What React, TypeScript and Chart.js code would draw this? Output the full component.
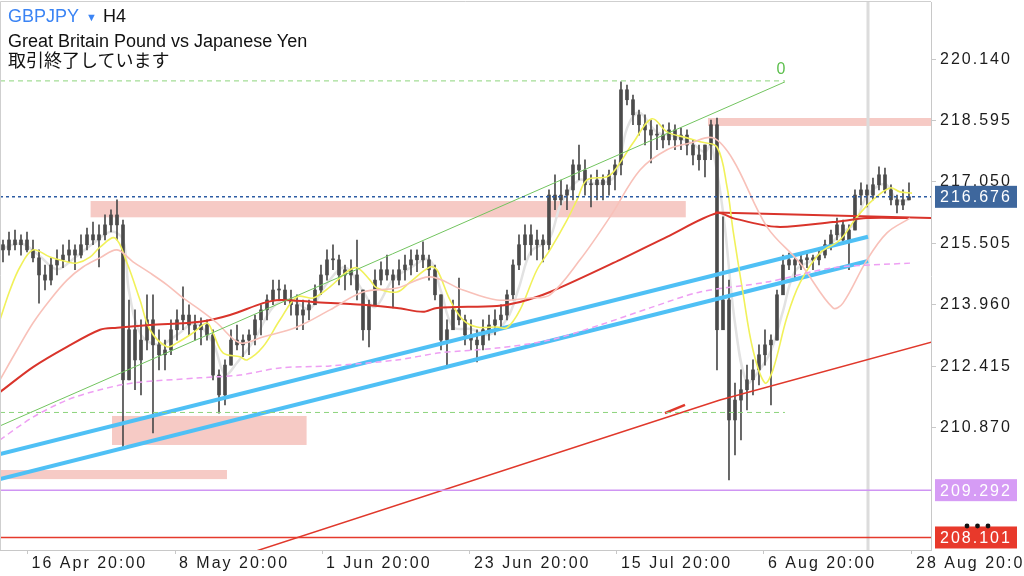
import React, { useEffect, useRef } from "react";
import { Chart, registerables } from "chart.js";
Chart.register(...registerables);

// ---------- axes ----------
const TIME_LABELS = ["16 Apr 20:00", "8 May 20:00", "1 Jun 20:00", "23 Jun 20:00", "15 Jul 20:00", "6 Aug 20:00", "28 Aug 20:00"];
const TIME_TICK_BARS = [4.1, 28.67, 53.17, 77.83, 102.33, 126.83, 151.5];
const PRICE_TICKS = [210.87, 212.415, 213.96, 215.505, 217.05, 218.595, 220.14];
const PRICE_MIN = 207.786;
const PRICE_MAX = 221.58;
const BAR_MIN = -0.5;
const BAR_MAX = 154.67;

// ---------- candles (H4, GBPJPY) ----------
const FIRST_OPEN = 215.47;
const HIGH = [
  215.59, 215.79, 215.84, 215.72, 215.79, 215.59, 215.34, 214.96, 215.14, 215.34,
  215.47, 215.59, 215.47, 215.72, 215.89, 216.04, 215.97, 216.22, 216.35, 216.6,
  216.09, 214.08, 213.83, 213.58, 214.21, 214.21, 213.33, 213.07, 213.58, 213.83,
  214.41, 213.96, 213.7, 213.63, 213.58, 213.33, 212.32, 212.57, 213.33, 213.45,
  213.2, 213.33, 213.7, 213.96, 214.21, 214.58, 214.58, 214.46, 214.33, 214.21,
  214.08, 214.08, 214.46, 214.96, 215.34, 215.47, 215.21, 214.96, 215.09, 215.59,
  214.33, 214.08, 214.84, 215.04, 215.21, 214.84, 215.09, 215.21, 215.34, 215.34,
  215.54, 215.21, 214.96, 214.21, 213.58, 214.08, 214.63, 213.7, 213.58, 213.33,
  213.58, 213.7, 213.83, 213.96, 214.33, 215.09, 215.72, 215.97, 215.97, 215.84,
  215.72, 216.85, 217.23, 217.1, 216.98, 217.61, 217.98, 217.61, 217.23, 217.35,
  217.23, 217.35, 217.61, 219.57, 219.49, 219.24, 218.86, 218.74, 218.61, 218.49,
  218.49, 218.54, 218.49, 218.41, 218.36, 218.11, 217.98, 217.86, 218.61, 218.66,
  216.17, 214.58, 211.99, 212.32, 212.44, 212.57, 212.95, 213.33, 213.2, 214.33,
  215.21, 215.26, 215.14, 215.21, 215.29, 215.21, 215.34, 215.59, 215.84, 216.14,
  216.09, 215.97, 216.85, 217.03, 216.98, 217.15, 217.43, 217.4, 216.98, 216.72,
  216.85, 217.03,
];
const LOW = [
  215.04, 215.21, 215.34, 215.21, 215.29, 215.04, 214.0, 214.33, 214.46, 214.71,
  214.89, 215.04, 214.84, 215.14, 215.34, 215.47, 214.91, 215.59, 215.79, 215.59,
  210.38, 212.07, 211.82, 211.69, 212.82, 210.73, 212.32, 212.32, 212.7, 213.07,
  213.33, 213.2, 213.07, 212.95, 213.07, 212.07, 211.23, 211.44, 212.44, 212.82,
  212.65, 212.7, 212.95, 213.2, 213.58, 213.96, 214.08, 213.96, 213.7, 213.33,
  213.33, 213.58, 213.96, 214.21, 214.58, 214.84, 214.46, 214.33, 214.46, 214.08,
  213.07, 212.9, 214.21, 214.46, 214.58, 213.88, 214.46, 214.58, 214.71, 214.79,
  214.89, 214.58, 214.08, 212.82, 212.39, 213.33, 213.45, 212.95, 212.82, 212.52,
  212.82, 213.07, 213.2, 213.33, 213.58, 214.08, 214.84, 215.09, 215.21, 215.09,
  215.04, 215.34, 216.35, 216.47, 216.35, 216.6, 217.1, 216.72, 216.42, 216.6,
  216.6, 216.72, 216.85, 217.23, 218.99, 218.49, 218.23, 217.98, 217.53, 217.86,
  217.91, 217.98, 217.86, 217.86, 217.73, 217.48, 217.35, 217.18, 217.61, 212.32,
  213.33, 209.55, 210.18, 210.56, 211.31, 211.69, 211.94, 212.44, 211.44, 213.07,
  214.33, 214.84, 214.58, 214.84, 214.89, 214.84, 214.96, 215.14, 215.34, 215.59,
  215.47, 214.84, 215.84, 216.47, 216.42, 216.6, 216.85, 216.77, 216.47, 216.27,
  216.35, 216.6,
];
const CLOSE = [
  215.34, 215.59, 215.47, 215.59, 215.34, 215.14, 214.71, 214.58, 214.96, 215.09,
  215.21, 215.34, 215.21, 215.47, 215.72, 215.59, 215.72, 215.97, 216.22, 215.97,
  212.07, 213.33, 212.57, 213.07, 213.58, 212.95, 212.7, 212.82, 213.33, 213.58,
  213.7, 213.45, 213.33, 213.45, 213.2, 212.19, 211.69, 212.44, 213.07, 212.95,
  213.07, 213.2, 213.58, 213.83, 214.08, 214.33, 214.33, 214.08, 213.96, 213.7,
  213.83, 213.96, 214.33, 214.71, 215.09, 215.09, 214.71, 214.84, 214.71, 214.33,
  213.33, 213.96, 214.58, 214.84, 214.71, 214.58, 214.84, 214.96, 215.09, 215.21,
  215.09, 214.84, 214.21, 213.07, 213.33, 213.83, 213.58, 213.2, 213.07, 212.95,
  213.33, 213.45, 213.58, 213.7, 214.21, 214.96, 215.47, 215.72, 215.47, 215.59,
  215.47, 216.72, 216.6, 216.72, 216.85, 217.48, 217.35, 216.98, 216.98, 217.1,
  216.98, 217.23, 217.48, 219.37, 219.12, 218.74, 218.49, 218.36, 218.23, 218.23,
  218.11, 218.36, 218.11, 218.23, 217.98, 217.73, 217.61, 217.98, 218.49, 213.33,
  214.08, 211.06, 211.56, 211.82, 212.07, 212.32, 212.7, 212.95, 213.07, 214.21,
  214.96, 215.09, 214.96, 215.09, 215.14, 215.09, 215.21, 215.47, 215.72, 215.97,
  215.59, 215.84, 216.72, 216.85, 216.72, 216.98, 217.23, 216.85, 216.6, 216.47,
  216.6, 216.676,
];

// ---------- moving averages: [bar, price] ----------
const GRAY_MA = [
  [-0.5, 215.35], [3, 215.5], [6, 215.2], [9, 214.85], [12, 215.15], [15, 215.5], [18, 215.8],
  [20, 215.6], [21, 214.3], [23, 213.2], [26, 212.95], [29, 213.2], [32, 213.5], [35, 213.0],
  [37, 212.2], [39, 212.5], [42, 213.1], [45, 213.9], [48, 214.1], [51, 213.85], [54, 214.5],
  [57, 214.9], [60, 214.3], [62, 213.9], [65, 214.6], [68, 214.9], [71, 215.1], [73, 214.3],
  [75, 213.4], [78, 213.35], [81, 213.2], [84, 213.6], [86, 214.4], [88, 215.3], [91, 215.6],
  [93, 216.5], [96, 217.1], [99, 217.0], [102, 217.2], [104, 218.4], [106, 218.8], [109, 218.3],
  [112, 218.2], [115, 218.0], [117, 217.8], [118, 218.0], [120, 216.3], [122, 213.5], [124, 212.0],
  [126, 212.3], [128, 212.8], [130, 213.8], [132, 214.8], [135, 215.1], [138, 215.5], [140, 215.8],
  [142, 216.0], [144, 216.7], [147, 217.0], [149, 216.6], [151, 216.6],
];
const RED_MA = [
  [-0.5, 211.76], [5, 212.39], [10.67, 212.9], [16.17, 213.33], [19, 213.38], [24.5, 213.45],
  [32.83, 213.53], [37.83, 213.7], [43.33, 214.0], [46.17, 214.08], [51.67, 214.03], [60, 213.96],
  [65.67, 213.88], [70, 213.78], [72.33, 213.88], [82.33, 213.93], [86.17, 214.03], [91.17, 214.28],
  [102.83, 215.09], [110.67, 215.67], [119, 216.27], [121.67, 216.14], [129, 215.92], [138.33, 216.04],
  [144, 216.14], [151.17, 216.14],
];
const PINK_MA = [
  [-0.5, 212.07], [2.33, 212.82], [5, 213.5], [7.83, 214.08], [10.67, 214.58], [13.33, 214.91],
  [16.17, 215.14], [19, 215.34], [21.67, 215.04], [24.5, 214.76], [27.33, 214.46], [30, 214.13],
  [32.83, 213.83], [35.67, 213.5], [39.5, 213.0], [43.33, 213.15], [49, 213.4], [54.5, 213.83],
  [60, 214.28], [65.67, 214.38], [71.17, 214.66], [76.67, 214.33], [82.33, 214.08], [87.83, 214.13],
  [91.17, 214.21], [96.17, 215.09], [101.17, 216.17], [106.17, 217.35], [110.67, 217.86], [114.5, 218.03],
  [118.33, 218.16], [121.67, 217.61], [127.33, 215.92], [132.83, 215.01], [138.33, 213.88], [140, 214.0],
  [144, 215.09], [147.33, 215.77], [151.17, 216.14],
];
const YELLOW_MA = [
  [-0.5, 213.58], [1.17, 214.33], [2.83, 214.91], [5, 215.34], [7.83, 215.16], [10.67, 215.04],
  [12.33, 215.01], [14.5, 215.16], [16.17, 215.41], [18.67, 215.64], [20.67, 215.01], [22.83, 214.08],
  [24.5, 213.33], [27.33, 212.9], [29, 213.0], [31.67, 213.25], [34, 213.5], [35, 213.25],
  [36.67, 212.75], [39.5, 212.65], [40.67, 212.57], [43.33, 212.9], [46.17, 213.58], [49, 214.16],
  [51.67, 214.13], [54.5, 214.41], [57.33, 214.79], [59, 214.89], [61.17, 214.58], [62.33, 214.38],
  [65.67, 214.28], [67.83, 214.53], [71.17, 214.91], [72.33, 214.84], [74.5, 214.08], [76.67, 213.58],
  [79, 213.4], [82.33, 213.4], [84, 213.38], [86.17, 213.83], [89, 214.84], [91.17, 215.34],
  [94, 216.09], [95.67, 216.6], [97.33, 217.1], [100.67, 217.18], [102, 217.35], [105, 218.03],
  [108.17, 218.64], [110.67, 218.31], [114, 218.16], [116.17, 218.06], [119, 217.93], [120.67, 216.93],
  [121.67, 215.84], [123.33, 214.26], [125, 212.82], [127, 211.99], [128.33, 212.32], [130.67, 213.65],
  [132.83, 214.51], [136.17, 215.26], [139.5, 215.59], [142.33, 216.17], [145, 216.6], [147.83, 216.9],
  [149.5, 216.8], [151.5, 216.77],
];
const VIOLET_MA = [
  [-0.5, 210.56], [5, 211.13], [10.67, 211.56], [16.17, 211.82], [21.67, 211.99], [32.83, 212.12],
  [39.5, 212.19], [46.17, 212.37], [54.5, 212.42], [65.67, 212.57], [72.83, 212.75], [82.33, 212.87],
  [91.17, 213.07], [99.5, 213.45], [107.83, 213.88], [116.17, 214.28], [127.33, 214.53], [138.33, 214.89],
  [151.5, 215.01],
];

// ---------- drawn objects ----------
const CURRENT_PRICE = 216.676;
const PURPLE_LEVEL = 209.292;
const RED_LEVEL = 208.101;
const GREEN_FIB_TOP = 219.594;
const GREEN_FIB_BOTTOM = 211.248;
const GREEN_FIB_END_BAR = 130.33;
const GREEN_TREND = [[-0.5, 210.91], [130.33, 219.57]];
const BLUE_UPPER = [[-0.5, 210.2], [144.17, 215.67]];
const BLUE_LOWER = [[-0.5, 209.57], [144.17, 215.06]];
const RED_TREND = [[42.17, 207.76], [119.5, 211.56], [154.83, 213.02]];
const RED_SHORT = [[110.33, 211.23], [113.67, 211.44]];
const RED_FLAT = [[118.67, 216.28], [154.67, 216.14]];
// zones: [fromBar, toBar, topPrice, bottomPrice]
const ZONES = [
  [14.6, 113.8, 216.57, 216.16],
  [117.5, 154.83, 218.66, 218.46],
  [18.17, 50.6, 211.16, 210.43],
  [-0.5, 37.33, 209.8, 209.57],
];
const VLINE_BAR = 144.17;

const FONT = "'Liberation Sans', Arial, Helvetica, sans-serif";

const pts = (arr: number[][]) => arr.map(([x, y]) => ({ x, y }));

export default function App() {
  const ref = useRef<HTMLCanvasElement>(null);

  useEffect(() => {
    document.body.style.margin = "0";
    const canvas = ref.current!;

    const opens = CLOSE.map((_, i) => (i === 0 ? FIRST_OPEN : CLOSE[i - 1]));
    const wicks = CLOSE.map((c, i) => ({
      x: i,
      y: [Math.min(LOW[i], opens[i], c), Math.max(HIGH[i], opens[i], c)],
    }));
    const bodies = CLOSE.map((c, i) => ({ x: i, y: [opens[i], c] }));

    const line = (data: any[], color: string, width: number, extra: any = {}) => ({
      type: "line",
      data,
      borderColor: color,
      borderWidth: width,
      pointRadius: 0,
      fill: false,
      tension: 0,
      order: 1,
      ...extra,
    });

    const overlay = {
      id: "overlay",
      beforeUpdate(chart: any) {
        chart.ctx.letterSpacing = "2px";
      },
      beforeDraw(chart: any) {
        chart.ctx.letterSpacing = "2px";
      },
      beforeDatasetsDraw(chart: any) {
        const { ctx, chartArea, scales } = chart;
        const x = scales.x, y = scales.y;
        ctx.save();
        ctx.fillStyle = "#f6cac5";
        ZONES.forEach(([b0, b1, p0, p1]) => {
          const x0 = Math.max(chartArea.left, x.getPixelForValue(b0));
          const x1 = Math.min(chartArea.right, x.getPixelForValue(b1));
          const y0 = y.getPixelForValue(p0);
          const y1 = y.getPixelForValue(p1);
          ctx.fillRect(x0, y0, x1 - x0, y1 - y0);
        });
        ctx.fillStyle = "#dcdcdc";
        const vx = x.getPixelForValue(VLINE_BAR);
        ctx.fillRect(vx - 1.5, chartArea.top, 3, chartArea.bottom - chartArea.top);
        ctx.restore();
      },
      afterDraw(chart: any) {
        const { ctx, chartArea, scales } = chart;
        const x = scales.x, y = scales.y;
        ctx.save();
        // frame
        ctx.strokeStyle = "#cfcfcf";
        ctx.lineWidth = 1;
        ctx.beginPath();
        ctx.moveTo(0.5, chartArea.bottom);
        ctx.lineTo(0.5, 1.5);
        ctx.lineTo(chartArea.right, 1.5);
        ctx.stroke();
        // fib label
        ctx.letterSpacing = "0px";
        ctx.fillStyle = "#5cbf4c";
        ctx.font = `16px ${FONT}`;
        ctx.textAlign = "center";
        ctx.textBaseline = "middle";
        ctx.fillText("0", x.getPixelForValue(GREEN_FIB_END_BAR) - 4, y.getPixelForValue(GREEN_FIB_TOP) - 11);
        // price boxes
        ctx.letterSpacing = "2px";
        ctx.textAlign = "left";
        const box = (price: number, fill: string) => {
          const py = y.getPixelForValue(price);
          ctx.fillStyle = fill;
          ctx.fillRect(chartArea.right + 4, py - 11, 82, 22);
          ctx.fillStyle = "#ffffff";
          ctx.fillText(price.toFixed(3), chartArea.right + 9, py + 1);
        };
        box(CURRENT_PRICE, "#3e679d");
        box(PURPLE_LEVEL, "#d69cf5");
        box(RED_LEVEL, "#e8392b");
        // dots above the last box
        const dy = y.getPixelForValue(RED_LEVEL) - 11.5;
        ctx.fillStyle = "#111111";
        [36, 46.5, 57].forEach((dx) => {
          ctx.beginPath();
          ctx.arc(chartArea.right + dx, dy, 2.4, 0, Math.PI * 2);
          ctx.fill();
        });
        ctx.restore();
      },
    };

    const chart = new Chart(canvas, {
      type: "line",
      data: {
        datasets: [
          line(pts([[BAR_MIN, CURRENT_PRICE], [BAR_MAX, CURRENT_PRICE]]), "#2d5ca3", 1.5, { borderDash: [3, 3], order: 0 }),
          line(pts([[BAR_MIN, PURPLE_LEVEL], [BAR_MAX, PURPLE_LEVEL]]), "#cf95f3", 1.5),
          line(pts([[BAR_MIN, RED_LEVEL], [BAR_MAX, RED_LEVEL]]), "#e53a2c", 1.5),
          line(pts([[BAR_MIN, GREEN_FIB_TOP], [GREEN_FIB_END_BAR, GREEN_FIB_TOP]]), "#8dd47c", 1, { borderDash: [5, 4] }),
          line(pts([[BAR_MIN, GREEN_FIB_BOTTOM], [GREEN_FIB_END_BAR, GREEN_FIB_BOTTOM]]), "#8dd47c", 1, { borderDash: [5, 4] }),
          line(pts(GREEN_TREND), "#72c45f", 1),
          line(pts(VIOLET_MA), "#ee9ff3", 1.5, { borderDash: [6, 4], tension: 0.3 }),
          line(pts(PINK_MA), "#f8c1b9", 1.6, { tension: 0.35 }),
          line(pts(RED_MA), "#d9342b", 2, { tension: 0.3 }),
          line(pts(YELLOW_MA), "#f1f15a", 1.6, { tension: 0.35 }),
          line(pts(BLUE_UPPER), "#4fc0f5", 4),
          line(pts(BLUE_LOWER), "#4fc0f5", 4),
          line(pts(RED_TREND), "#e0382b", 1.5),
          line(pts(RED_SHORT), "#e0382b", 2.5),
          line(pts(RED_FLAT), "#d9342b", 2),
          line(pts(GRAY_MA), "#e2e2e2", 2.5, { tension: 0.35, order: 12 }),
          {
            type: "bar",
            data: wicks,
            backgroundColor: "#4b4b4b",
            barThickness: 1,
            grouped: false,
            borderWidth: 0,
            order: 10,
          },
          {
            type: "bar",
            data: bodies,
            backgroundColor: "#4b4b4b",
            barThickness: 3,
            grouped: false,
            borderWidth: 0,
            minBarLength: 1,
            order: 9,
          },
        ] as any,
      },
      options: {
        responsive: false,
        animation: false,
        events: [],
        layout: { padding: { top: 2, left: 0, right: 0, bottom: 0 }, autoPadding: false },
        plugins: { legend: { display: false }, tooltip: { enabled: false } },
        scales: {
          x: {
            type: "linear",
            min: BAR_MIN,
            max: BAR_MAX,
            offset: false,
            bounds: "data",
            grid: { display: true, drawOnChartArea: false, drawTicks: true, tickLength: 4, color: "#c8c8c8", offset: false },
            border: { display: true, color: "#c8c8c8", width: 1 },
            ticks: {
              autoSkip: false,
              maxRotation: 0,
              minRotation: 0,
              align: "start",
              labelOffset: 4,
              padding: 0,
              color: "#1c1c1c",
              font: { family: FONT, size: 16 },
              callback: (_v: any, i: number) => TIME_LABELS[i],
            },
            afterBuildTicks: (s: any) => {
              s.ticks = TIME_TICK_BARS.map((v) => ({ value: v }));
            },
            afterFit: (s: any) => {
              s.height = 26;
              s.paddingLeft = 0;
              s.paddingRight = 0;
            },
          },
          y: {
            type: "linear",
            position: "right",
            min: PRICE_MIN,
            max: PRICE_MAX,
            bounds: "data",
            beginAtZero: false,
            grid: { display: true, drawOnChartArea: false, drawTicks: true, tickLength: 5, color: "#c8c8c8" },
            border: { display: true, color: "#c8c8c8", width: 1 },
            ticks: {
              padding: 4,
              color: "#1c1c1c",
              font: { family: FONT, size: 16 },
              callback: (v: any) => Number(v).toFixed(3),
            },
            afterBuildTicks: (s: any) => {
              s.ticks = PRICE_TICKS.map((v) => ({ value: v }));
            },
            afterFit: (s: any) => {
              s.width = 93;
              s.paddingTop = 0;
              s.paddingBottom = 0;
            },
          },
        },
      } as any,
      plugins: [overlay],
    });
    return () => chart.destroy();
  }, []);

  const head: React.CSSProperties = {
    position: "absolute",
    left: 8,
    fontFamily: FONT,
    fontSize: 18,
    lineHeight: "20px",
    color: "#111",
    whiteSpace: "nowrap",
  };

  return (
    <div style={{ position: "relative", width: 1024, height: 576, background: "#fff", overflow: "hidden" }}>
      <canvas ref={ref} width={1024} height={576} style={{ display: "block", width: 1024, height: 576 }} />
      <div style={{ ...head, top: 6 }}>
        <span style={{ color: "#3b84f4" }}>GBPJPY</span>
        <span style={{ color: "#3b84f4", fontSize: 11, margin: "0 6px 0 7px", position: "relative", top: -1 }}>▼</span>
        <span>H4</span>
      </div>
      <div style={{ ...head, top: 31 }}>Great Britain Pound vs Japanese Yen</div>
      <div style={{ ...head, top: 49, fontFamily: "'Noto Sans CJK JP', sans-serif", fontSize: 18 }}>取引終了しています</div>
    </div>
  );
}
